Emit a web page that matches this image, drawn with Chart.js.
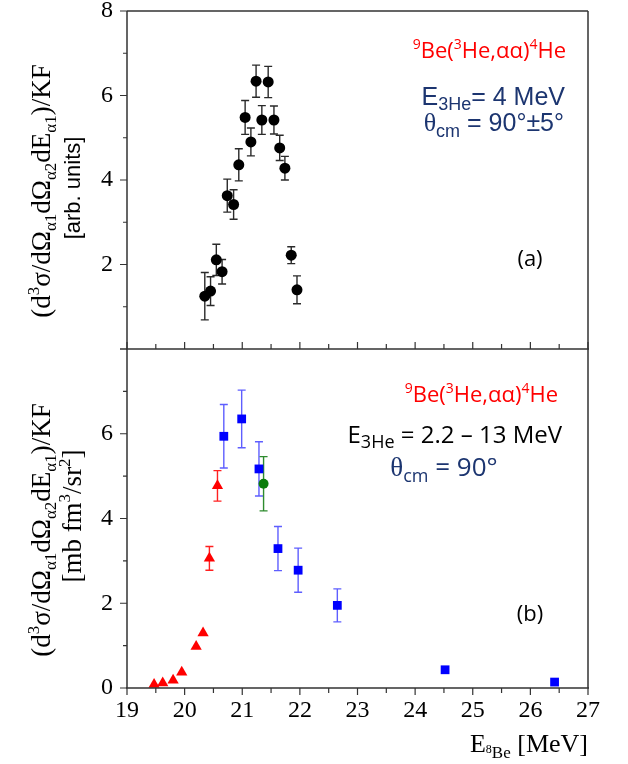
<!DOCTYPE html>
<html>
<head>
<meta charset="utf-8">
<script src="https://cdn.jsdelivr.net/npm/chart.js@4.4.1/dist/chart.umd.min.js"></script>
<style>
    html, body { margin: 0; padding: 0; background: #fff; }
    #wrap { position: relative; width: 628px; height: 764px; }
    #wrap canvas { position: absolute; left: 0; top: 0; }
</style>
</head>
<body>
<div id="wrap">
    <canvas id="chartB" width="628" height="764"></canvas>
    <canvas id="chartA" width="628" height="764"></canvas>
</div>
<script>
// panel (a): E3He = 4 MeV, arb. units
const aEnergy = [20.35, 20.45, 20.55, 20.65, 20.74, 20.85, 20.94, 21.05, 21.15, 21.24, 21.34, 21.45, 21.55, 21.65, 21.74, 21.85, 21.95];
const aYield  = [1.25, 1.37, 2.11, 1.83, 3.63, 3.42, 4.36, 5.48, 4.90, 6.34, 5.42, 6.32, 5.42, 4.76, 4.28, 2.22, 1.40];
const aErr    = [0.56, 0.34, 0.37, 0.29, 0.39, 0.35, 0.38, 0.40, 0.33, 0.38, 0.34, 0.37, 0.33, 0.30, 0.28, 0.20, 0.33];

// panel (b): mb fm^3/sr^2
const redEnergy = [19.47, 19.62, 19.80, 19.95, 20.20, 20.32, 20.43, 20.57];
const redYield  = [0.08, 0.12, 0.18, 0.37, 0.98, 1.30, 3.06, 4.77];
const redErr    = [0, 0, 0, 0, 0, 0, 0.28, 0.36];

const blueEnergy = [20.68, 20.99, 21.29, 21.62, 21.97, 22.65, 24.52, 26.42];
const blueYield  = [5.94, 6.35, 5.17, 3.29, 2.78, 1.95, 0.43, 0.14];
const blueErr    = [0.75, 0.68, 0.64, 0.52, 0.52, 0.39, 0, 0];

const greenEnergy = [21.37];
const greenYield  = [4.82];
const greenErr    = [0.64];

const xTickValues = [19, 20, 21, 22, 23, 24, 25, 26, 27];
const aYTicks = [2, 4, 6, 8];
const bYTicks = [0, 2, 4, 6];

const SERIF = '"Liberation Serif", "Times New Roman", serif';
const SANS = '"Liberation Sans", Arial, sans-serif';
const CAL = '"Open Sans", "Liberation Sans", sans-serif';
const NAVY = '#1c3570';
const AXIS = '#333';

const pts = (xs, ys) => xs.map((x, i) => ({ x: x, y: ys[i] }));

// draws text made of pieces [text, font, dy]
function richText(ctx, parts, x, y, align) {
    let w = 0;
    parts.forEach(p => { ctx.font = p[1]; w += ctx.measureText(p[0]).width; });
    let cx = align === 'right' ? x - w : (align === 'center' ? x - w / 2 : x);
    parts.forEach(p => {
        ctx.font = p[1];
        ctx.fillText(p[0], cx, y + (p[2] || 0));
        cx += ctx.measureText(p[0]).width;
    });
}

function rotText(ctx, parts, x, y) {
    ctx.save();
    ctx.translate(x, y);
    ctx.rotate(-Math.PI / 2);
    richText(ctx, parts, 0, 0, 'center');
    ctx.restore();
}

const errorBars = {
    id: 'errorBars',
    beforeDatasetsDraw(chart) {
        const ctx = chart.ctx;
        const xs = chart.scales.x, ys = chart.scales.y;
        chart.data.datasets.forEach(ds => {
            if (!ds.errors) return;
            ctx.save();
            ctx.strokeStyle = ds.errorColor;
            ctx.lineWidth = 1.4;
            ds.data.forEach((p, i) => {
                const e = ds.errors[i];
                if (!e) return;
                const px = xs.getPixelForValue(p.x);
                const y1 = ys.getPixelForValue(p.y - e);
                const y2 = ys.getPixelForValue(p.y + e);
                ctx.beginPath();
                ctx.moveTo(px, y1); ctx.lineTo(px, y2);
                ctx.moveTo(px - 4, y1); ctx.lineTo(px + 4, y1);
                ctx.moveTo(px - 4, y2); ctx.lineTo(px + 4, y2);
                ctx.stroke();
            });
            ctx.restore();
        });
    }
};

const frame = {
    id: 'frame',
    afterDraw(chart, args, opts) {
        const ctx = chart.ctx;
        const a = chart.chartArea;
        const xs = chart.scales.x, ys = chart.scales.y;
        ctx.save();
        ctx.strokeStyle = AXIS;
        ctx.lineWidth = 1.5;
        ctx.beginPath();
        ctx.moveTo(a.left, a.top); ctx.lineTo(a.left, a.bottom);
        ctx.moveTo(a.right, a.top); ctx.lineTo(a.right, a.bottom);
        ctx.moveTo(a.left - 1, a.bottom); ctx.lineTo(a.right + 1, a.bottom);
        if (opts.top) { ctx.moveTo(a.left, a.top); ctx.lineTo(a.right, a.top); }
        ctx.stroke();
        ctx.lineWidth = 1.2;
        ctx.beginPath();
        // y ticks, outward
        for (let v = ys.min; v <= ys.max; v += 1) {
            const py = ys.getPixelForValue(v);
            const len = v % 2 === 0 ? 7 : 4;
            ctx.moveTo(a.left - len, py); ctx.lineTo(a.left, py);
        }
        // x ticks
        for (let v = xs.min; v <= xs.max; v += 0.5) {
            const px = xs.getPixelForValue(v);
            const len = Number.isInteger(v) ? 7 : 5;
            ctx.moveTo(px, a.bottom); ctx.lineTo(px, a.bottom + opts.xDir * len);
        }
        ctx.stroke();
        ctx.restore();
    }
};

const annotations = {
    id: 'annotations',
    afterDraw(chart, args, opts) {
        const ctx = chart.ctx;
        ctx.save();
        ctx.textBaseline = 'alphabetic';
        opts.items.forEach(it => {
            ctx.fillStyle = it.color;
            if (it.rotate) rotText(ctx, it.parts, it.x, it.y);
            else richText(ctx, it.parts, it.x, it.y, it.align);
        });
        ctx.restore();
    }
};

const S27 = '27px ' + SERIF, S17 = '17px ' + SERIF;
const yTitle = [['(d', S27], ['3', S17, -11], ['σ/dΩ', S27], ['α1', S17, 6], ['dΩ', S27], ['α2', S17, 6], ['dE', S27], ['α1', S17, 6], [')/KF', S27]];
const reaction = (big, small) => [['9', small, -9], ['Be(', big], ['3', small, -9], ['He,αα)', big], ['4', small, -9], ['He', big]];

function yScale(ticks) {
    return {
        type: 'linear', min: 0, max: 8,
        afterBuildTicks: s => { s.ticks = ticks.map(v => ({ value: v })); },
        afterFit: s => { s.width = 127; },
        grid: { display: false, drawTicks: true, tickLength: 14 },
        border: { display: false },
        ticks: { padding: 0, color: '#000', font: { family: SERIF, size: 24, lineHeight: 0.9 } }
    };
}

const common = {
    responsive: false,
    animation: false,
    devicePixelRatio: 1,
    events: []
};

new Chart(document.getElementById('chartA'), {
    type: 'scatter',
    data: {
        datasets: [{
            data: pts(aEnergy, aYield), errors: aErr, errorColor: '#2a2a2a',
            pointStyle: 'circle', pointRadius: 5.5, backgroundColor: '#000', borderColor: '#000', borderWidth: 0
        }]
    },
    options: Object.assign({}, common, {
        layout: { padding: { left: 0, top: 11, right: 40, bottom: 415 } },
        scales: {
            x: { type: 'linear', min: 19, max: 27, display: false },
            y: yScale(aYTicks)
        },
        plugins: {
            legend: { display: false }, tooltip: { enabled: false },
            frame: { top: true, xDir: -1 },
            annotations: {
                items: [
                    { color: '#ff0000', parts: reaction('22px ' + CAL, '14px ' + CAL), x: 566, y: 58, align: 'right' },
                    { color: NAVY, parts: [['E', '25px ' + SANS], ['3He', '18px ' + SANS, 5], ['= 4 MeV', '25px ' + SANS]], x: 565, y: 105, align: 'right' },
                    { color: NAVY, parts: [['θ', '26px ' + SERIF], ['cm', '18px ' + SANS, 6], [' = 90°±5°', '25px ' + SANS]], x: 564, y: 131, align: 'right' },
                    { color: '#000', parts: [['(a)', '22px ' + CAL]], x: 530, y: 266, align: 'center' },
                    { color: '#000', rotate: true, parts: yTitle, x: 50, y: 191 },
                    { color: '#000', rotate: true, parts: [['[arb. units]', '22px "Liberation Sans Narrow", ' + SANS]], x: 80, y: 188 }
                ]
            }
        }
    }),
    plugins: [errorBars, frame, annotations]
});

new Chart(document.getElementById('chartB'), {
    type: 'scatter',
    data: {
        datasets: [
            {
                data: pts(redEnergy, redYield), errors: redErr, errorColor: '#ff2020',
                pointStyle: 'triangle', pointRadius: 6.5, backgroundColor: '#ff0000', borderColor: '#ff0000', borderWidth: 0
            },
            {
                data: pts(blueEnergy, blueYield), errors: blueErr, errorColor: 'rgba(40,40,255,0.75)',
                pointStyle: 'rect', pointRadius: 6.2, backgroundColor: '#0000ff', borderColor: '#0000ff', borderWidth: 0
            },
            {
                data: pts(greenEnergy, greenYield), errors: greenErr, errorColor: '#2e8b2e',
                pointStyle: 'circle', pointRadius: 5, backgroundColor: '#0a7d0a', borderColor: '#0a7d0a', borderWidth: 0
            }
        ]
    },
    options: Object.assign({}, common, {
        layout: { padding: { left: 0, top: 349, right: 40, bottom: 0 } },
        scales: {
            x: {
                type: 'linear', min: 19, max: 27,
                afterBuildTicks: s => { s.ticks = xTickValues.map(v => ({ value: v })); },
                afterFit: s => { s.height = 76; },
                grid: { display: false, drawTicks: true, tickLength: 11 },
                border: { display: false },
                ticks: { padding: 0, maxRotation: 0, autoSkip: false, color: '#000', font: { family: SERIF, size: 24, lineHeight: 1 } }
            },
            y: yScale(bYTicks)
        },
        plugins: {
            legend: { display: false }, tooltip: { enabled: false },
            frame: { top: false, xDir: 1 },
            annotations: {
                items: [
                    { color: '#ff0000', parts: reaction('22px ' + CAL, '14px ' + CAL), x: 558, y: 402, align: 'right' },
                    { color: '#000', parts: [['E', '24px ' + CAL], ['3He', '18px ' + CAL, 5], [' = 2.2 – 13 MeV', '24px ' + CAL]], x: 562, y: 443, align: 'right' },
                    { color: NAVY, parts: [['θ', '27px ' + SERIF], ['cm', '18px ' + CAL, 6], [' = 90°', '26px ' + CAL]], x: 444, y: 476, align: 'center' },
                    { color: '#000', parts: [['(b)', '22px ' + CAL]], x: 530, y: 621, align: 'center' },
                    { color: '#000', rotate: true, parts: yTitle, x: 50, y: 530 },
                    { color: '#000', rotate: true, parts: [['[mb fm', S27], ['3', S17, -11], ['/sr', S27], ['2', S17, -11], [']', S27]], x: 81, y: 516 },
                    { color: '#000', parts: [['E', '26px ' + SERIF], ['8', '12px ' + SERIF, 1], ['Be', '17px ' + SERIF, 6], [' [MeV]', '26px ' + SERIF]], x: 588, y: 752, align: 'right' }
                ]
            }
        }
    }),
    plugins: [errorBars, frame, annotations]
});
</script>
</body>
</html>
